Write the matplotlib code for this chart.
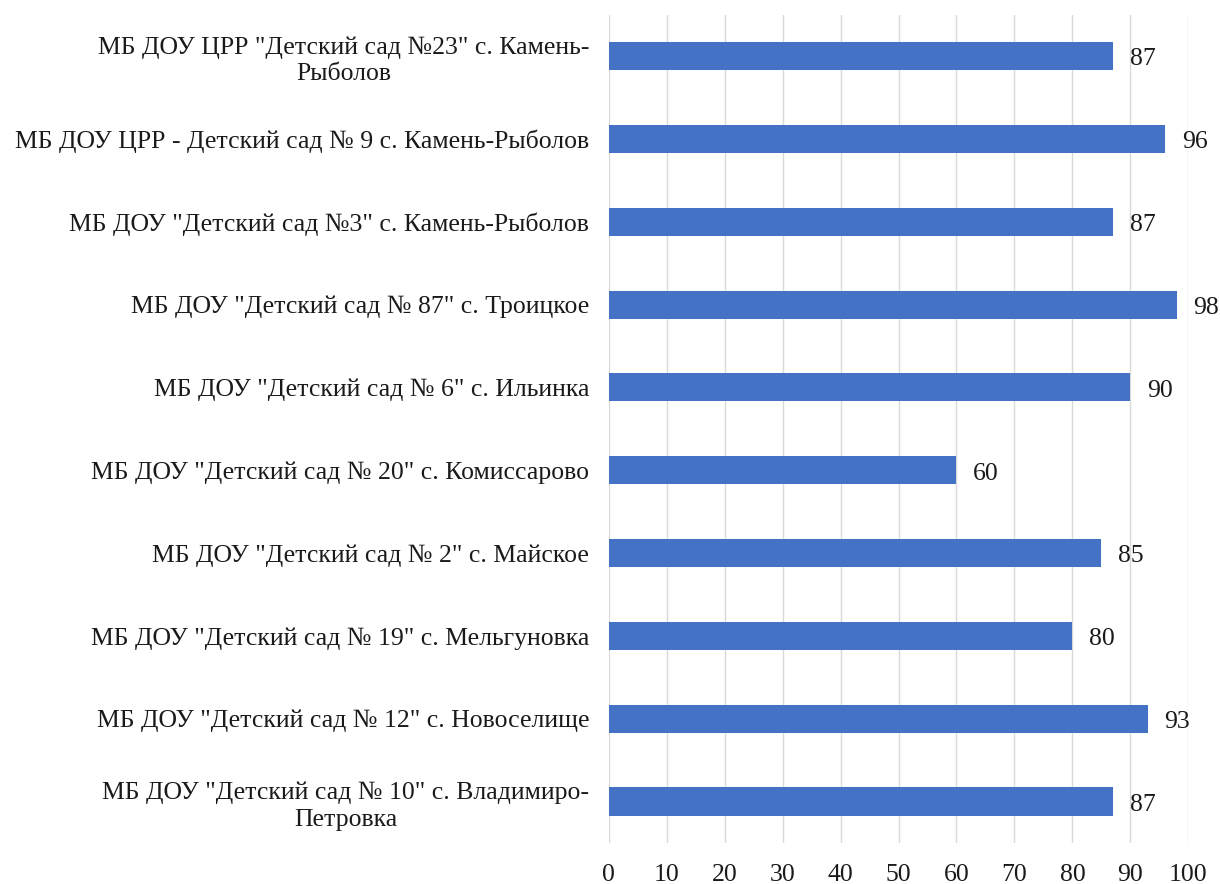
import matplotlib.pyplot as plt

plt.rcParams['font.family'] = ['Liberation Serif', 'DejaVu Serif']

# данные сверху вниз
labels = [
    'МБ ДОУ ЦРР "Детский сад №23" с. Камень-\nРыболов',
    'МБ ДОУ ЦРР - Детский сад № 9 с. Камень-Рыболов',
    'МБ ДОУ "Детский сад №3" с. Камень-Рыболов',
    'МБ ДОУ "Детский сад № 87" с. Троицкое',
    'МБ ДОУ "Детский сад № 6" с. Ильинка',
    'МБ ДОУ "Детский сад № 20" с. Комиссарово',
    'МБ ДОУ "Детский сад № 2" с. Майское',
    'МБ ДОУ "Детский сад № 19" с. Мельгуновка',
    'МБ ДОУ "Детский сад № 12" с. Новоселище',
    'МБ ДОУ "Детский сад № 10" с. Владимиро-\nПетровка',
]
values = [87, 96, 87, 98, 90, 60, 85, 80, 93, 87]
xticks = list(range(0, 101, 10))

fs = 18.5

fig = plt.figure(figsize=(12.2, 8.84), dpi=100)
ax = fig.add_axes([0.499, 0.0464, 0.475, 0.937])

pos = list(range(len(values)))
ax.barh(pos, values, height=0.34, color='#4472C4', zorder=3)
for p, v in zip(pos, values):
    ax.text(v + 2.9, p + 0.04, str(v), va='center', ha='left', fontsize=fs, color='#1a1a1a')

ax.set_ylim(len(values) - 0.5, -0.5)
ax.set_xlim(0, 100)
ax.set_xticks(xticks)
ax.set_yticks(pos)
ax.set_yticklabels(labels, fontsize=fs, multialignment='center', linespacing=1.25,
                   color='#1a1a1a')
ax.tick_params(axis='x', labelsize=fs, colors='#1a1a1a', length=0, pad=15)
ax.tick_params(axis='y', length=0, pad=14)
ax.grid(axis='x', color='#d9d9d9', linewidth=1, zorder=0)
for s in ax.spines.values():
    s.set_visible(False)

plt.savefig('out.png', dpi=100)
